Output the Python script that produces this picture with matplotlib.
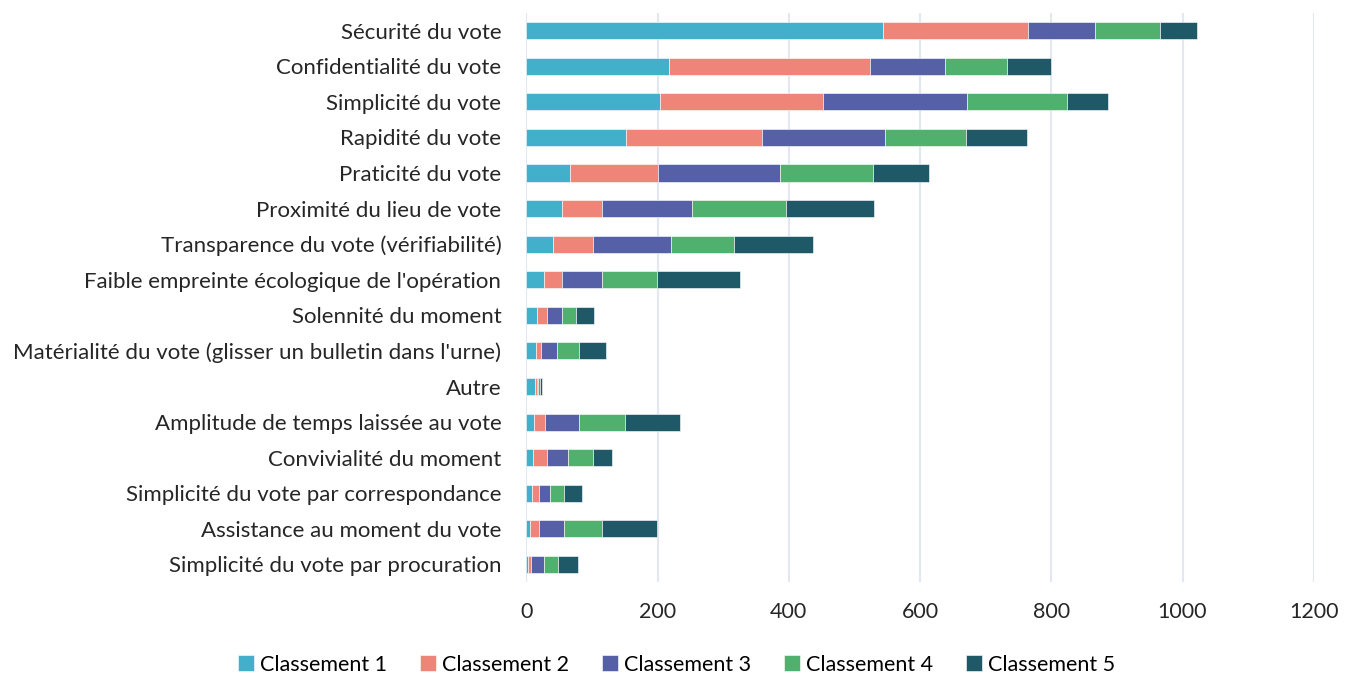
import numpy as np
import matplotlib.pyplot as plt

plt.rcParams['font.family'] = ['Lato', 'DejaVu Sans']

categories = [
    "Sécurité du vote",
    "Confidentialité du vote",
    "Simplicité du vote",
    "Rapidité du vote",
    "Praticité du vote",
    "Proximité du lieu de vote",
    "Transparence du vote (vérifiabilité)",
    "Faible empreinte écologique de l'opération",
    "Solennité du moment",
    "Matérialité du vote (glisser un bulletin dans l'urne)",
    "Autre",
    "Amplitude de temps laissée au vote",
    "Convivialité du moment",
    "Simplicité du vote par correspondance",
    "Assistance au moment du vote",
    "Simplicité du vote par procuration",
]
series_names = ["Classement 1", "Classement 2", "Classement 3", "Classement 4", "Classement 5"]

classement1 = [543, 217, 203, 152, 66, 55, 41, 27, 16, 14, 13, 11, 10, 8, 6, 2]
classement2 = [221, 307, 249, 207, 135, 61, 61, 28, 16, 8, 3, 17, 22, 12, 13, 5]
classement3 = [102, 114, 220, 188, 186, 137, 118, 61, 22, 25, 2, 53, 31, 16, 38, 20]
classement4 = [100, 95, 152, 123, 142, 143, 97, 83, 22, 34, 3, 69, 39, 22, 59, 22]
classement5 = [56, 67, 62, 93, 85, 134, 120, 127, 27, 40, 3, 84, 29, 27, 83, 30]

colors = ["#43B0CB", "#EF8579", "#5560A6", "#50B06D", "#1F5968"]

fig = plt.figure(figsize=(13.53, 6.77), dpi=100)
ax = fig.add_axes([0.389, 0.140, 0.582, 0.841])

y = np.arange(len(categories))
left = np.zeros(len(categories))
for name, vals, c in zip(series_names,
                         [classement1, classement2, classement3, classement4, classement5],
                         colors):
    vals = np.array(vals, dtype=float)
    ax.barh(y, vals, left=left, height=0.48, color=c, label=name,
            edgecolor="white", linewidth=0.4, zorder=3)
    left += vals

ax.set_yticks(y)
ax.set_yticklabels(categories, fontsize=16, color="#262626")
ax.set_ylim(len(categories) - 0.5, -0.5)
ax.set_xlim(0, 1200)
ax.set_xticks(np.arange(0, 1201, 200))
ax.tick_params(axis='x', labelsize=15.5, labelcolor="#262626", length=0, pad=14)
ax.tick_params(axis='y', length=0, pad=18)
ax.grid(axis='x', color="#E3E7F0", linewidth=1.5, zorder=0)
for s in ax.spines.values():
    s.set_visible(False)

fig.legend(loc="lower center", bbox_to_anchor=(0.5, -0.025), ncol=5, frameon=False,
           fontsize=15.5, handlelength=0.75, handleheight=0.75, handletextpad=0.3,
           columnspacing=1.5)

fig.savefig("out.png", dpi=100)
